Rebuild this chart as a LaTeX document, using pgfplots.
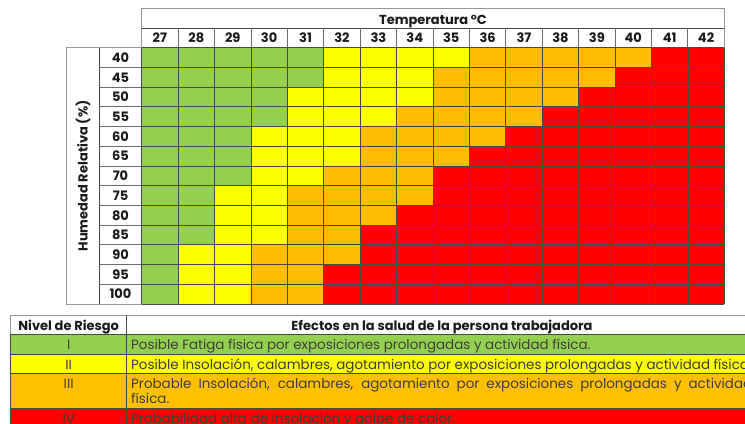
\documentclass[border=0pt]{standalone}
\usepackage{pgfplots}
\pgfplotsset{compat=1.18}
\usepackage{fontspec}
\setmainfont{Poppins}
\definecolor{cG}{RGB}{146,208,80}
\definecolor{cY}{RGB}{255,255,0}
\definecolor{cO}{RGB}{255,192,0}
\definecolor{cR}{RGB}{255,0,0}
\definecolor{lineg}{RGB}{150,150,150}
\definecolor{lined}{RGB}{70,70,70}
\definecolor{txt}{RGB}{25,25,25}
\definecolor{txtb}{RGB}{60,60,60}
\newcommand{\fb}{\fontsize{13bp}{15bp}\selectfont\bfseries}
\newcommand{\fr}{\fontsize{13.45bp}{15bp}\selectfont}
\begin{document}
\begin{tikzpicture}[x=1bp,y=1bp]
\useasboundingbox (0,0) rectangle (745,423);
\fill[white] (0,0) rectangle (745,423);
% header box (Temperatura)
\draw[lineg, line width=0.8bp] (141.7,375.3) rectangle (724.3,414.7);
\draw[lined, line width=0.8bp] (141.7,394.7) -- (724.3,394.7);
\foreach \k in {1,...,15} {
  \draw[lined!80, line width=0.8bp] ({141.7+\k*36.4125},375.3) -- ({141.7+\k*36.4125},394.7);
}
\node[anchor=base, text=txt, inner sep=0pt] at (433,398) {\fb Temperatura °C};
% left box (Humedad)
\draw[lineg, line width=0.8bp] (66.7,119) rectangle (141.7,375.3);
\draw[lined, line width=0.8bp] (99.3,119) -- (99.3,375.3);
\foreach \k in {1,...,12} {
  \draw[lined!80, line width=0.8bp] (99.3,{375.3-\k*19.715}) -- (141.7,{375.3-\k*19.715});
}
\node[rotate=90, anchor=center, text=txt, inner sep=0pt] at (83,247.15) {\fb Humedad Relativa (\%)};
\begin{axis}[
  at={(433bp,247.15bp)}, anchor=center,
  scale only axis, width=582.6bp, height=256.3bp,
  xmin=26.5, xmax=42.5, ymin=37.5, ymax=102.5, y dir=reverse,
  xtick={27,...,42}, ytick={40,45,...,100},
  minor xtick={26.5,27.5,...,42.5}, minor ytick={37.5,42.5,...,102.5},
  xminorgrids, yminorgrids,
  minor grid style={draw=black!72, line width=0.8bp},
  axis on top,
  xticklabel pos=upper,
  major tick length=0pt, minor tick length=0pt,
  axis line style={draw=none},
  clip=false,
  /pgf/number format/assume math mode=true,
  xticklabel style={anchor=center, yshift=9.7bp, font=\fb, text=txt, inner sep=0pt},
  yticklabel style={anchor=center, xshift=-21.2bp, font=\fb, text=txt, inner sep=0pt},
  colormap={risk}{rgb255(0)=(146,208,80) rgb255(1)=(255,255,0) rgb255(2)=(255,192,0) rgb255(3)=(255,0,0)},
  point meta min=0, point meta max=3,
]
\addplot[matrix plot*, mesh/cols=16, point meta=explicit] coordinates {
(27,40)[0] (28,40)[0] (29,40)[0] (30,40)[0] (31,40)[0] (32,40)[1] (33,40)[1] (34,40)[1] (35,40)[1] (36,40)[2] (37,40)[2] (38,40)[2] (39,40)[2] (40,40)[2] (41,40)[3] (42,40)[3]

(27,45)[0] (28,45)[0] (29,45)[0] (30,45)[0] (31,45)[0] (32,45)[1] (33,45)[1] (34,45)[1] (35,45)[2] (36,45)[2] (37,45)[2] (38,45)[2] (39,45)[2] (40,45)[3] (41,45)[3] (42,45)[3]

(27,50)[0] (28,50)[0] (29,50)[0] (30,50)[0] (31,50)[1] (32,50)[1] (33,50)[1] (34,50)[1] (35,50)[2] (36,50)[2] (37,50)[2] (38,50)[2] (39,50)[3] (40,50)[3] (41,50)[3] (42,50)[3]

(27,55)[0] (28,55)[0] (29,55)[0] (30,55)[0] (31,55)[1] (32,55)[1] (33,55)[1] (34,55)[2] (35,55)[2] (36,55)[2] (37,55)[2] (38,55)[3] (39,55)[3] (40,55)[3] (41,55)[3] (42,55)[3]

(27,60)[0] (28,60)[0] (29,60)[0] (30,60)[1] (31,60)[1] (32,60)[1] (33,60)[2] (34,60)[2] (35,60)[2] (36,60)[2] (37,60)[3] (38,60)[3] (39,60)[3] (40,60)[3] (41,60)[3] (42,60)[3]

(27,65)[0] (28,65)[0] (29,65)[0] (30,65)[1] (31,65)[1] (32,65)[1] (33,65)[2] (34,65)[2] (35,65)[2] (36,65)[3] (37,65)[3] (38,65)[3] (39,65)[3] (40,65)[3] (41,65)[3] (42,65)[3]

(27,70)[0] (28,70)[0] (29,70)[0] (30,70)[1] (31,70)[1] (32,70)[2] (33,70)[2] (34,70)[2] (35,70)[3] (36,70)[3] (37,70)[3] (38,70)[3] (39,70)[3] (40,70)[3] (41,70)[3] (42,70)[3]

(27,75)[0] (28,75)[0] (29,75)[1] (30,75)[1] (31,75)[2] (32,75)[2] (33,75)[2] (34,75)[2] (35,75)[3] (36,75)[3] (37,75)[3] (38,75)[3] (39,75)[3] (40,75)[3] (41,75)[3] (42,75)[3]

(27,80)[0] (28,80)[0] (29,80)[1] (30,80)[1] (31,80)[2] (32,80)[2] (33,80)[2] (34,80)[3] (35,80)[3] (36,80)[3] (37,80)[3] (38,80)[3] (39,80)[3] (40,80)[3] (41,80)[3] (42,80)[3]

(27,85)[0] (28,85)[0] (29,85)[1] (30,85)[1] (31,85)[2] (32,85)[2] (33,85)[3] (34,85)[3] (35,85)[3] (36,85)[3] (37,85)[3] (38,85)[3] (39,85)[3] (40,85)[3] (41,85)[3] (42,85)[3]

(27,90)[0] (28,90)[1] (29,90)[1] (30,90)[2] (31,90)[2] (32,90)[2] (33,90)[3] (34,90)[3] (35,90)[3] (36,90)[3] (37,90)[3] (38,90)[3] (39,90)[3] (40,90)[3] (41,90)[3] (42,90)[3]

(27,95)[0] (28,95)[1] (29,95)[1] (30,95)[2] (31,95)[2] (32,95)[3] (33,95)[3] (34,95)[3] (35,95)[3] (36,95)[3] (37,95)[3] (38,95)[3] (39,95)[3] (40,95)[3] (41,95)[3] (42,95)[3]

(27,100)[0] (28,100)[1] (29,100)[1] (30,100)[2] (31,100)[2] (32,100)[3] (33,100)[3] (34,100)[3] (35,100)[3] (36,100)[3] (37,100)[3] (38,100)[3] (39,100)[3] (40,100)[3] (41,100)[3] (42,100)[3]
};
\end{axis}
% legend table
\fill[cG] (10.7,68.7) rectangle (757,88.7);
\fill[cY] (10.7,49.7) rectangle (757,68.7);
\fill[cO] (10.7,14.7) rectangle (757,49.7);
\fill[cR] (10.7,-8) rectangle (757,14.7);
\draw[lineg, line width=0.8bp] (10.7,88.7) -- (10.7,108) -- (757,108) -- (757,88.7);
\draw[lined, line width=0.8bp] (126.7,-8) -- (126.7,108);
\draw[lined, line width=0.8bp] (10.7,-8) -- (10.7,88.7);
\foreach \yy in {88.7,68.7,49.7,14.7} {\draw[lined, line width=0.8bp] (10.7,\yy) -- (757,\yy);}
\node[anchor=base, text=txt, inner sep=0pt] at (68.7,93) {\fb Nivel de Riesgo};
\node[anchor=base, text=txt, inner sep=0pt] at (442,93) {\fb Efectos en la salud de la persona trabajadora};
\node[anchor=base, text=txtb, inner sep=0pt] at (68.7,74) {\fr I};
\node[anchor=base, text=txtb, inner sep=0pt] at (68.7,54) {\fr II};
\node[anchor=base, text=txtb, inner sep=0pt] at (68.7,35) {\fr III};
\node[anchor=base, text=txtb, inner sep=0pt] at (68.7,-0.5) {\fr IV};
\node[anchor=base west, text=txtb, inner sep=0pt] at (131,74) {\fr Posible Fatiga física por exposiciones prolongadas y actividad física.};
\node[anchor=base west, text=txtb, inner sep=0pt] at (131,54) {\fr Posible Insolación, calambres, agotamiento por exposiciones prolongadas y actividad física.};
\node[anchor=base west, text=txtb, inner sep=0pt] at (131,35) {\fr\makebox[621bp][s]{Probable Insolación, calambres, agotamiento por exposiciones prolongadas y actividad}};
\node[anchor=base west, text=txtb, inner sep=0pt] at (131,20) {\fr física.};
\node[anchor=base west, text=txtb, inner sep=0pt] at (131,-0.5) {\fr Probabilidad alta de insolación y golpe de calor.};
\end{tikzpicture}
\end{document}
